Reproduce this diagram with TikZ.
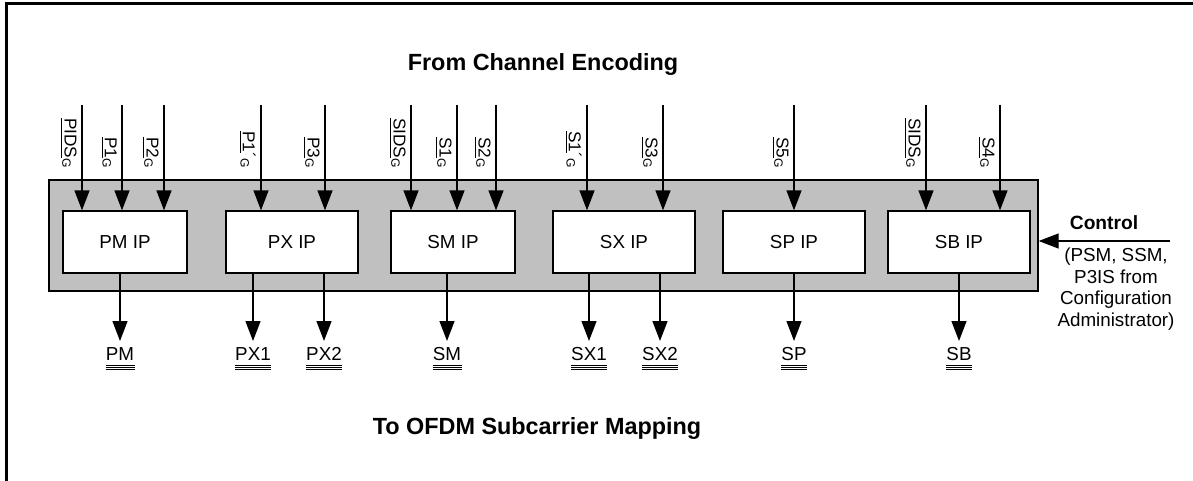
\documentclass[tikz,border=0pt]{standalone}
\usepackage{fontspec}
\setmainfont{Liberation Sans}
\usetikzlibrary{arrows.meta}
\definecolor{panelgray}{RGB}{192,192,192}

\begin{document}
\begin{tikzpicture}[x=0.5pt,y=-0.5pt]
    \tikzstyle{ipblock}=[draw=black,fill=white,line width=0.65pt,minimum height=31pt,inner sep=0pt,font=\fontsize{9.4}{11}\selectfont]
    \tikzstyle{sig}=[line width=0.65pt,-{Triangle[length=10pt,width=7.5pt]}]
    \tikzstyle{inlabel}=[rotate=-90,anchor=north east,inner sep=0pt,font=\fontsize{8.6}{10}\selectfont]
    \tikzstyle{outlabel}=[inner xsep=0pt,inner ysep=3pt,anchor=north,font=\fontsize{9.4}{11}\selectfont]
    \tikzstyle{title}=[anchor=base,font=\bfseries\fontsize{11.7}{14}\selectfont]

    \useasboundingbox (0,0) rectangle (1193,481);
    \draw[line width=1.7pt] (6.5,481) |- (1193,3.3);

    \node (fromce)[title] at (543,71) {From Channel Encoding};
    \node (toofdm)[title] at (537,434) {To OFDM Subcarrier Mapping};

    \node (ip)[draw=black,fill=panelgray,line width=0.65pt,minimum width=494.5pt,minimum height=55.5pt] at (543.5,235.5) {};

    \node (pm)[ipblock,minimum width=62pt] at (125,242) {PM IP};
    \node (px)[ipblock,minimum width=66pt] at (292,242) {PX IP};
    \node (sm)[ipblock,minimum width=62pt] at (453,242) {SM IP};
    \node (sx)[ipblock,minimum width=71pt] at (624,242) {SX IP};
    \node (sp)[ipblock,minimum width=71pt] at (794,242) {SP IP};
    \node (sb)[ipblock,minimum width=71pt] at (959,242) {SB IP};

    % inputs from channel encoding
    \foreach \x/\blk/\txt [count=\i] in {
        82/pm/{\underline{PIDS}\textsubscript{G}},
        122/pm/{\underline{P1}\textsubscript{G}},
        164/pm/{\underline{P2}\textsubscript{G}},
        261/px/{\underline{P1}{´}\textsubscript{G}},
        325/px/{\underline{P3}\textsubscript{G}},
        411/sm/{\underline{SIDS}\textsubscript{G}},
        457/sm/{\underline{S1}\textsubscript{G}},
        496/sm/{\underline{S2}\textsubscript{G}},
        587/sx/{\underline{S1}{´}\textsubscript{G}},
        663/sx/{\underline{S3}\textsubscript{G}},
        794/sp/{\underline{S5}\textsubscript{G}},
        926/sb/{\underline{SIDS}\textsubscript{G}},
        1000/sb/{\underline{S4}\textsubscript{G}}}{
        \coordinate (in\i) at (\x,105);
        \draw[sig] (in\i) -- (in\i |- \blk.north);
        \node (lin\i)[inlabel] at (\x-5,169) {\txt};
    }

    % outputs to subcarrier mapping
    \foreach \x/\blk/\txt in {120/pm/PM, 253/px/PX1, 324/px/PX2, 447/sm/SM, 589/sx/SX1, 660/sx/SX2, 794/sp/SP, 959/sb/SB}{
        \node (out\txt)[outlabel] at (\x,341) {\txt};
        \draw[sig] (\blk.south -| out\txt) -- (out\txt.north);
        \foreach \d in {2.35,3.35,4.35}
            \draw[line width=0.5pt] ([yshift=-\d pt]out\txt.base west) -- ([yshift=-\d pt]out\txt.base east);
    }

    % control input
    \node (ctltitle)[font=\bfseries\fontsize{9.6}{11}\selectfont] at (1104,223) {Control};
    \coordinate (ctl) at (1170,241);
    \draw[sig] (ctl) -- (ctl -| ip.east);
    \node (ctlnote)[align=center,font=\fontsize{9.4}{10.85}\selectfont] at (1116,289) {(PSM, SSM,\\P3IS from\\Configuration\\Administrator)};
\end{tikzpicture}
\end{document}
